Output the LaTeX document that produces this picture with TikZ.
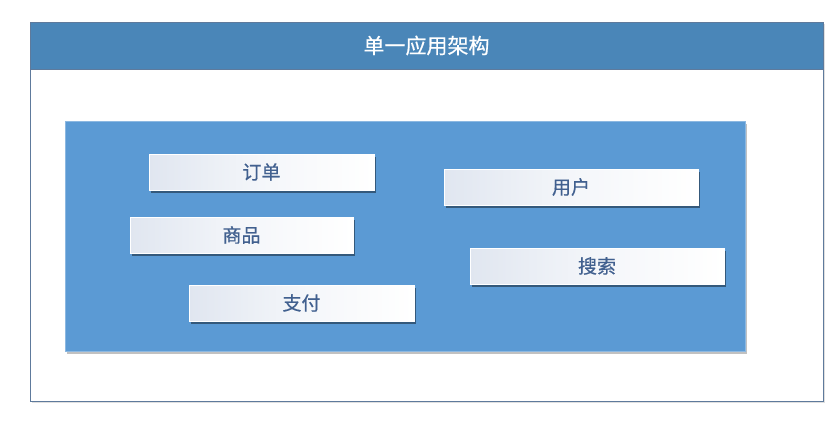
\documentclass[tikz,border=0pt]{standalone}
\usepackage{fontspec}
\newfontfamily\cjk[FakeBold=0.6]{Noto Sans CJK SC}
\usetikzlibrary{shadows}
\definecolor{headblue}{HTML}{4A86B8}
\definecolor{innerblue}{HTML}{5B9AD4}
\definecolor{framegray}{HTML}{5E7A9C}
\definecolor{modtext}{HTML}{41608F}
\definecolor{modleft}{HTML}{E0E6F0}

\begin{document}
\begin{tikzpicture}[x=1pt, y=-1pt,
        frame/.style={draw=framegray, line width=1pt, fill=white,
            drop shadow={shadow xshift=2pt, shadow yshift=-2pt, fill=black!25, opacity=.5}},
        head/.style={fill=headblue, draw=framegray, line width=1pt},
        inner/.style={fill=innerblue, draw=innerblue!70!white,
            drop shadow={shadow xshift=2pt, shadow yshift=-3pt, fill=black!40, opacity=.6}},
        mod/.style={minimum height=36pt, inner sep=0pt, left color=modleft, right color=white,
            middle color=modleft!35!white, draw=white, text=modtext, font=\cjk\fontsize{19}{19}\selectfont,
            drop shadow={shadow xshift=2pt, shadow yshift=-3pt, fill=black!70!innerblue, opacity=.6}}
    ]
    \useasboundingbox (0,0) rectangle (836,426);
    % outer frame and title bar
    \draw[frame] (30,22) rectangle (823,401);
    \draw[head] (30,22) rectangle (823,69);
    \node[text=white, font=\cjk\fontsize{21}{21}\selectfont] (title) at (426.5,45.5) {单一应用架构};
    % application body
    \draw[inner] (65,121) rectangle (745,351);
    % modules
    \node[mod, minimum width=225pt] (order) at (261.5,172) {订单};
    \node[mod, minimum width=254pt] (user) at (571,187) {用户};
    \node[mod, minimum width=223pt] (goods) at (241.5,235) {商品};
    \node[mod, minimum width=254pt] (search) at (597,266) {搜索};
    \node[mod, minimum width=225pt] (pay) at (301.5,303) {支付};
\end{tikzpicture}
\end{document}
